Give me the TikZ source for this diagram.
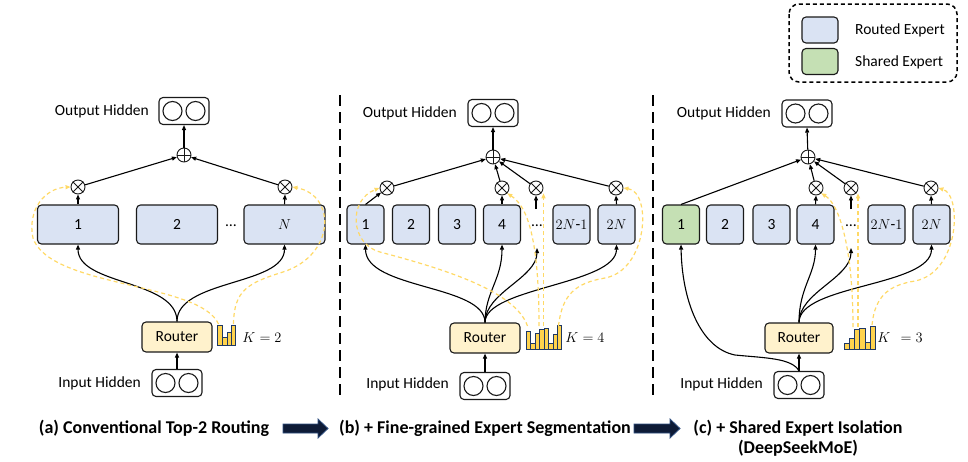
\documentclass[tikz,border=0pt]{standalone}
\usepackage{fontspec}
\setmainfont{Carlito}
\usetikzlibrary{arrows.meta,calc}
\definecolor{routed}{HTML}{DAE3F3}
\definecolor{shared}{HTML}{C5E0B4}
\definecolor{routerfill}{HTML}{FFF2CC}
\definecolor{gold}{HTML}{FFD966}
\definecolor{barfill}{HTML}{FFD34D}
\definecolor{barline}{HTML}{1F3864}
\definecolor{navy}{HTML}{0E1B36}
\definecolor{navyedge}{HTML}{2F4F80}
\definecolor{edge}{HTML}{1A1A1A}
\begin{document}
\begin{tikzpicture}[x=1pt,y=-1pt,
  font=\fontsize{15.5}{18}\selectfont,
  lbl/.style={inner sep=0pt},
  expert/.style={draw=edge, line width=1.1pt, rounded corners=4pt, fill=routed, minimum height=39pt, inner sep=0pt},
  router/.style={draw=edge, line width=1.1pt, rounded corners=4pt, fill=routerfill, minimum height=30pt, inner sep=0pt},
  hid/.style={draw=edge, line width=1.1pt, rounded corners=4pt, fill=white, minimum width=50pt, minimum height=27pt, inner sep=0pt},
  opx/.style={circle, draw=edge, line width=0.9pt, minimum size=14pt, inner sep=0pt, fill=white},
  conn/.style={draw=black, line width=1.1pt, -{Triangle[length=5pt,width=4pt]}},
  gd/.style={draw=gold, line width=1.2pt, dash pattern=on 4pt off 3pt, -{Triangle[length=5pt,width=4pt]}},
  sep/.style={draw=black, line width=1.6pt, dash pattern=on 11pt off 6pt},
  bar/.style={fill=barfill, draw=barline, line width=0.8pt},
  captxt/.style={inner sep=0pt, font=\fontsize{18}{21}\selectfont\bfseries},
  blockarrow/.style={fill=navy, draw=navyedge, line width=0.8pt}
]
\useasboundingbox (0,0) rectangle (968,461);

% ---------- helpers
\newcommand{\hidcircles}[1]{%
  \draw[edge, line width=1.1pt] ($(#1.center)+(-11.5,0)$) circle (9.5pt);
  \draw[edge, line width=1.1pt] ($(#1.center)+(11.5,0)$) circle (9.5pt);}
\newcommand{\otimesmark}[1]{%
  \draw[edge, line width=0.9pt] (#1.north west) -- (#1.south east) (#1.north east) -- (#1.south west);}
\newcommand{\oplusmark}[1]{%
  \draw[edge, line width=0.9pt] (#1.north) -- (#1.south) (#1.west) -- (#1.east);}

% ---------- separators
\draw[sep] (340,95) -- (340,395);
\draw[sep] (653,95) -- (653,395);

% ---------- legend
\draw[line width=1.5pt, dash pattern=on 4pt off 3pt, rounded corners=10pt] (789,4) rectangle (957,82);
\node[expert, minimum width=36pt, minimum height=26pt] (lg1) at (820,30) {};
\node[expert, fill=shared, minimum width=36pt, minimum height=26pt] (lg2) at (820,61.5) {};
\node[lbl, anchor=west] (lt1) at (855,30) {Routed Expert};
\node[lbl, anchor=west] (lt2) at (855,62) {Shared Expert};

% =================== panel (a)
\node[hid] (oa) at (184,111) {}; \hidcircles{oa}
\node[lbl, anchor=east] (toa) at (149,111) {Output Hidden};
\node[opx] (pa) at (184,155) {}; \oplusmark{pa}
\node[opx] (xa1) at (78,187) {}; \otimesmark{xa1}
\node[opx] (xa2) at (285,187) {}; \otimesmark{xa2}
\node[expert, minimum width=81pt] (ea1) at (78,224.5) {1};
\node[expert, minimum width=81pt] (ea2) at (177,224.5) {2};
\node[lbl] (da) at (231,226) {…};
\node[expert, minimum width=81pt] (ea3) at (284.5,224.5) {$N$};
\node[router, minimum width=70pt] (ra) at (177,337) {Router};
\node[hid] (ia) at (177,383) {}; \hidcircles{ia}
\node[lbl, anchor=east] (tia) at (141,383) {Input Hidden};
\node[lbl] (ka) at (262,338) {$K=2$};
% histogram a
\draw[bar] (217,325) rectangle (222,345);
\draw[bar] (222,337) rectangle (227,345);
\draw[bar] (227,332) rectangle (231,345);
\draw[bar] (231,325) rectangle (235.5,345);
\coordinate (hA1) at (218.5,324);
\coordinate (hA2) at (233.5,324);

\draw[conn] (ia.north) -- (ra.south);
\draw[conn] (ra.north) .. controls +(0,-42) and +(0,41) .. (ea1.south);
\draw[conn] (ra.north) .. controls +(0,-42) and +(0,41) .. (ea3.south);
\draw[conn] (ea1.north) -- (xa1.south);
\draw[conn] (ea3.north) -- (xa2.south);
\draw[conn] (xa1) -- (pa);
\draw[conn] (xa2) -- (pa);
\draw[conn] (pa) -- (oa.south);
\draw[gd] (hA1) .. controls (200,282) and (50,288) .. (33,238) .. controls (27,210) and (45,188) .. (xa1.west);
\draw[gd] (hA2) .. controls (234,290) and (248,283) .. (283,272) .. controls (336,255) and (336,195) .. (xa2.east);

% =================== panel (b)
\node[hid] (ob) at (493,113) {}; \hidcircles{ob}
\node[lbl, anchor=east] (tob) at (457,113) {Output Hidden};
\node[opx] (pb) at (493,157) {}; \oplusmark{pb}
\node[opx] (xb1) at (387,188) {}; \otimesmark{xb1}
\node[opx] (xb2) at (502,188) {}; \otimesmark{xb2}
\node[opx] (xb3) at (536,188) {}; \otimesmark{xb3}
\node[opx] (xb4) at (616,188) {}; \otimesmark{xb4}
\node[expert, minimum width=37pt] (eb1) at (365.5,224.5) {1};
\node[expert, minimum width=37pt] (eb2) at (411,224.5) {2};
\node[expert, minimum width=37pt] (eb3) at (457,224.5) {3};
\node[expert, minimum width=37pt] (eb4) at (502,224.5) {4};
\node[lbl] (db) at (537,226) {…};
\node[expert, minimum width=37pt] (eb5) at (571.5,224.5) {$2N$-$1$};
\node[expert, minimum width=37pt] (eb6) at (616.5,224.5) {$2N$};
\node[router, minimum width=70pt] (rb) at (485,338) {Router};
\node[hid] (ib) at (485,386) {}; \hidcircles{ib}
\node[lbl, anchor=east] (tib) at (449,384) {Input Hidden};
\node[lbl] (kb) at (585,338) {$K=4$};
% histogram b
\draw[bar] (526,331) rectangle (530.5,349);
\draw[bar] (530.5,343) rectangle (535,349);
\draw[bar] (535,333) rectangle (539.5,349);
\draw[bar] (539.5,329) rectangle (544,349);
\draw[bar] (544,328) rectangle (548.5,349);
\draw[bar] (548.5,343) rectangle (553,349);
\draw[bar] (553,334) rectangle (557,349);
\draw[bar] (557,325) rectangle (561,349);
\coordinate (hB1) at (527.5,326);
\coordinate (hB2) at (539,326);
\coordinate (hB3) at (543.5,326);
\coordinate (hB4) at (558.5,326);
\coordinate (db1) at (537,248);
\coordinate (db2) at (536,209);

\draw[conn] (ib.north) -- (rb.south);
\draw[conn] (rb.north) .. controls +(0,-38) and +(0,45) .. (eb1.south);
\draw[conn] (rb.north) .. controls +(0,-30) and +(0,35) .. (eb4.south);
\draw[conn] (rb.north) .. controls +(0,-30) and +(0,30) .. (db1);
\draw[conn] (rb.north) .. controls +(0,-35) and +(0,40) .. (eb6.south);
\draw[conn] (eb1.north) -- (xb1);
\draw[conn] (eb4.north) -- (xb2.south);
\draw[conn] (db2) -- (xb3.south);
\draw[conn] (eb6.north) -- (xb4.south);
\draw[conn] (xb1) -- (pb);
\draw[conn] (xb2) -- (pb);
\draw[conn] (xb3) -- (pb);
\draw[conn] (xb4) -- (pb);
\draw[conn] (pb) -- (ob.south);
\draw[gd] (hB1) .. controls (515,290) and (440,268) .. (380,252) .. controls (350,244) and (348,200) .. (xb1.west);
\draw[gd] (hB2) .. controls (539,230) and (525,205) .. (xb2.south east);
\draw[gd] (hB3) -- (hB3 |- xb3.south east);
\draw[gd] (hB4) .. controls (562,295) and (575,283) .. (605,278) .. controls (648,270) and (652,192) .. (xb4.east);

% =================== panel (c)
\node[hid] (oc) at (807,113.5) {}; \hidcircles{oc}
\node[lbl, anchor=east] (toc) at (771,113) {Output Hidden};
\node[opx] (pc) at (808,157) {}; \oplusmark{pc}
\node[opx] (xc2) at (816,188) {}; \otimesmark{xc2}
\node[opx] (xc3) at (851,188) {}; \otimesmark{xc3}
\node[opx] (xc4) at (931,188) {}; \otimesmark{xc4}
\node[expert, fill=shared, minimum width=37pt] (ec1) at (681,224.5) {1};
\node[expert, minimum width=37pt] (ec2) at (725,224.5) {2};
\node[expert, minimum width=37pt] (ec3) at (771.5,224.5) {3};
\node[expert, minimum width=37pt] (ec4) at (815.5,224.5) {4};
\node[lbl] (dc) at (851,226) {…};
\node[expert, minimum width=37pt] (ec5) at (886.5,224.5) {$2N$-$1$};
\node[expert, minimum width=37pt] (ec6) at (931.5,224.5) {$2N$};
\node[router, minimum width=68pt] (rc) at (799,338) {Router};
\node[hid] (ic) at (799,385) {}; \hidcircles{ic}
\node[lbl, anchor=east] (tic) at (763,384) {Input Hidden};
\node[lbl] (kc) at (900,338) {$K\;\,=3$};
% histogram c
\draw[bar] (844,343) rectangle (849,349);
\draw[bar] (849,338) rectangle (854,349);
\draw[bar] (854,329) rectangle (859.5,349);
\draw[bar] (859.5,328) rectangle (865,349);
\draw[bar] (865,342) rectangle (870,349);
\draw[bar] (870,326) rectangle (875,349);
\coordinate (hC1) at (853,327);
\coordinate (hC2) at (858,327);
\coordinate (hC3) at (872,325);
\coordinate (dc1) at (851,248);
\coordinate (dc2) at (851,209);

\draw[conn] (ic.north) -- (rc.south);
\draw[conn] (ic.north) .. controls (792,358) and (765,358) .. (735,355) .. controls (700,348) and (682,300) .. (ec1.south);
\draw[conn] (rc.north) .. controls +(0,-35) and +(0,30) .. (ec4.south);
\draw[conn] (rc.north) .. controls +(0,-30) and +(0,30) .. (dc1);
\draw[conn] (rc.north) .. controls +(0,-38) and +(0,42) .. (ec6.south);
\draw[conn] (ec1.north) -- (pc);
\draw[conn] (ec4.north) -- (xc2.south);
\draw[conn] (dc2) -- (xc3.south);
\draw[conn] (ec6.north) -- (xc4.south);
\draw[conn] (xc2) -- (pc);
\draw[conn] (xc3) -- (pc);
\draw[conn] (xc4) -- (pc);
\draw[conn] (pc) -- (oc.south);
\draw[gd] (hC1) .. controls (853,250) and (840,205) .. (xc2.south east);
\draw[gd] (hC2) -- (hC2 |- xc3.south east);
\draw[gd] (hC3) .. controls (875,295) and (890,285) .. (915,281) .. controls (960,272) and (962,195) .. (xc4.east);

% =================== captions
\node[captxt] (ca) at (154,428.5) {(a) Conventional Top-2 Routing};
\node[captxt] (cb) at (485,428.5) {(b) + Fine-grained Expert Segmentation};
\node[captxt] (cc) at (798,428.5) {(c) + Shared Expert Isolation};
\node[captxt] (cd) at (798,448) {(DeepSeekMoE)};
\draw[blockarrow] (283,424) -- (318,424) -- (318,419) -- (328,428.5) -- (318,438) -- (318,433) -- (283,433) -- cycle;
\draw[blockarrow] (634,424) -- (670,424) -- (670,419) -- (680,428.5) -- (670,438) -- (670,433) -- (634,433) -- cycle;
\end{tikzpicture}
\end{document}
